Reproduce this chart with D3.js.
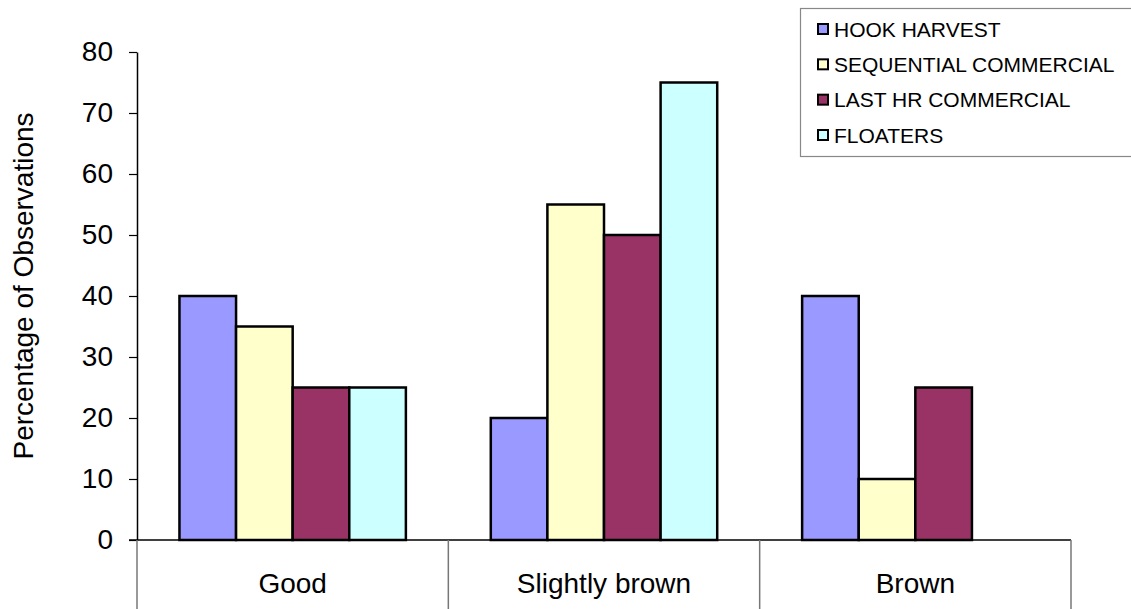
<!DOCTYPE html>
<html>
<head>
<meta charset="utf-8">
<script src="https://cdn.jsdelivr.net/npm/d3@7"></script>
<style>
  html, body { margin: 0; padding: 0; background: #fff; }
  svg { display: block; font-family: "Liberation Sans", Arial, sans-serif; }
</style>
</head>
<body>
<div id="chart"></div>
<script>
const categories = ['Good', 'Slightly brown', 'Brown'];
const seriesNames = ['HOOK HARVEST', 'SEQUENTIAL COMMERCIAL', 'LAST HR COMMERCIAL', 'FLOATERS'];
const hookHarvest = [40, 20, 40];
const sequentialCommercial = [35, 55, 10];
const lastHrCommercial = [25, 50, 25];
const floaters = [25, 75, 0];
const yTicks = [0, 10, 20, 30, 40, 50, 60, 70, 80];
const seriesColors = ['#9999ff', '#ffffcc', '#993366', '#ccffff'];

const series = [hookHarvest, sequentialCommercial, lastHrCommercial, floaters];

const W = 1131, H = 609;
const margin = { left: 137, right: 60, top: 52, bottom: 69 };

const svg = d3.select('#chart').append('svg')
  .attr('width', W)
  .attr('height', H);

const x0 = d3.scaleBand()
  .domain(categories)
  .range([margin.left, W - margin.right])
  .padding(0);

const bw = x0.bandwidth();
const gap = bw / 5.5 * 1.5;

const x1 = d3.scaleBand()
  .domain(d3.range(seriesNames.length))
  .range([gap / 2, bw - gap / 2])
  .padding(0);

const y = d3.scaleLinear()
  .domain([0, 80])
  .range([H - margin.bottom, margin.top]);

// bars
const rows = [];
categories.forEach((c, i) => {
  series.forEach((s, j) => {
    if (s[i] > 0) rows.push({ cat: c, idx: j, value: s[i] });
  });
});

svg.append('g').selectAll('rect')
  .data(rows)
  .join('rect')
  .attr('x', d => x0(d.cat) + x1(d.idx))
  .attr('y', d => y(d.value))
  .attr('width', x1.bandwidth())
  .attr('height', d => y(0) - y(d.value))
  .attr('fill', d => seriesColors[d.idx])
  .attr('stroke', '#000')
  .attr('stroke-width', 2.5);

// y axis
const yAxis = svg.append('g')
  .attr('transform', `translate(${margin.left},0)`)
  .call(d3.axisLeft(y).tickValues(yTicks).tickSize(8).tickPadding(16).tickSizeOuter(0));
yAxis.select('.domain').attr('stroke', '#000').attr('stroke-width', 1.5);
yAxis.selectAll('.tick line').attr('stroke', '#000').attr('stroke-width', 1.2);
yAxis.selectAll('text')
  .attr('font-size', 28)
  .attr('font-family', '"Liberation Sans", Arial, sans-serif')
  .attr('fill', '#000');

// x axis line
svg.append('line')
  .attr('x1', margin.left - 8)
  .attr('x2', W - margin.right)
  .attr('y1', y(0))
  .attr('y2', y(0))
  .attr('stroke', '#000')
  .attr('stroke-width', 1.5);

// category dividers
const edges = categories.map(c => x0(c)).concat([x0(categories[categories.length - 1]) + bw]);
svg.append('g').selectAll('line')
  .data(edges)
  .join('line')
  .attr('x1', d => d)
  .attr('x2', d => d)
  .attr('y1', y(0))
  .attr('y2', H)
  .attr('stroke', '#777')
  .attr('stroke-width', 1.5);

// category labels
svg.append('g').selectAll('text')
  .data(categories)
  .join('text')
  .attr('x', d => x0(d) + bw / 2)
  .attr('y', 593)
  .attr('text-anchor', 'middle')
  .attr('font-size', 28)
  .attr('fill', '#000')
  .text(d => d);

// y axis title
svg.append('text')
  .attr('transform', `translate(33,${(y(0) + y(80)) / 2 - 10}) rotate(-90)`)
  .attr('text-anchor', 'middle')
  .attr('font-size', 28)
  .attr('fill', '#000')
  .text('Percentage of Observations');

// legend
const legend = svg.append('g');
legend.append('rect')
  .attr('x', 800.5)
  .attr('y', 8.5)
  .attr('width', 340)
  .attr('height', 148)
  .attr('fill', '#fff')
  .attr('stroke', '#888')
  .attr('stroke-width', 1.2);

const rowY = d3.scalePoint()
  .domain(seriesNames)
  .range([29, 135]);

const item = legend.selectAll('g.item')
  .data(seriesNames)
  .join('g')
  .attr('class', 'item')
  .attr('transform', d => `translate(818,${rowY(d)})`);

item.append('rect')
  .attr('x', 0)
  .attr('y', -5)
  .attr('width', 10)
  .attr('height', 10)
  .attr('fill', (d, i) => seriesColors[i])
  .attr('stroke', '#000')
  .attr('stroke-width', 2);

item.append('text')
  .attr('x', 16)
  .attr('y', 0)
  .attr('dy', '0.36em')
  .attr('font-size', 21)
  .attr('fill', '#000')
  .text(d => d);
</script>
</body>
</html>
